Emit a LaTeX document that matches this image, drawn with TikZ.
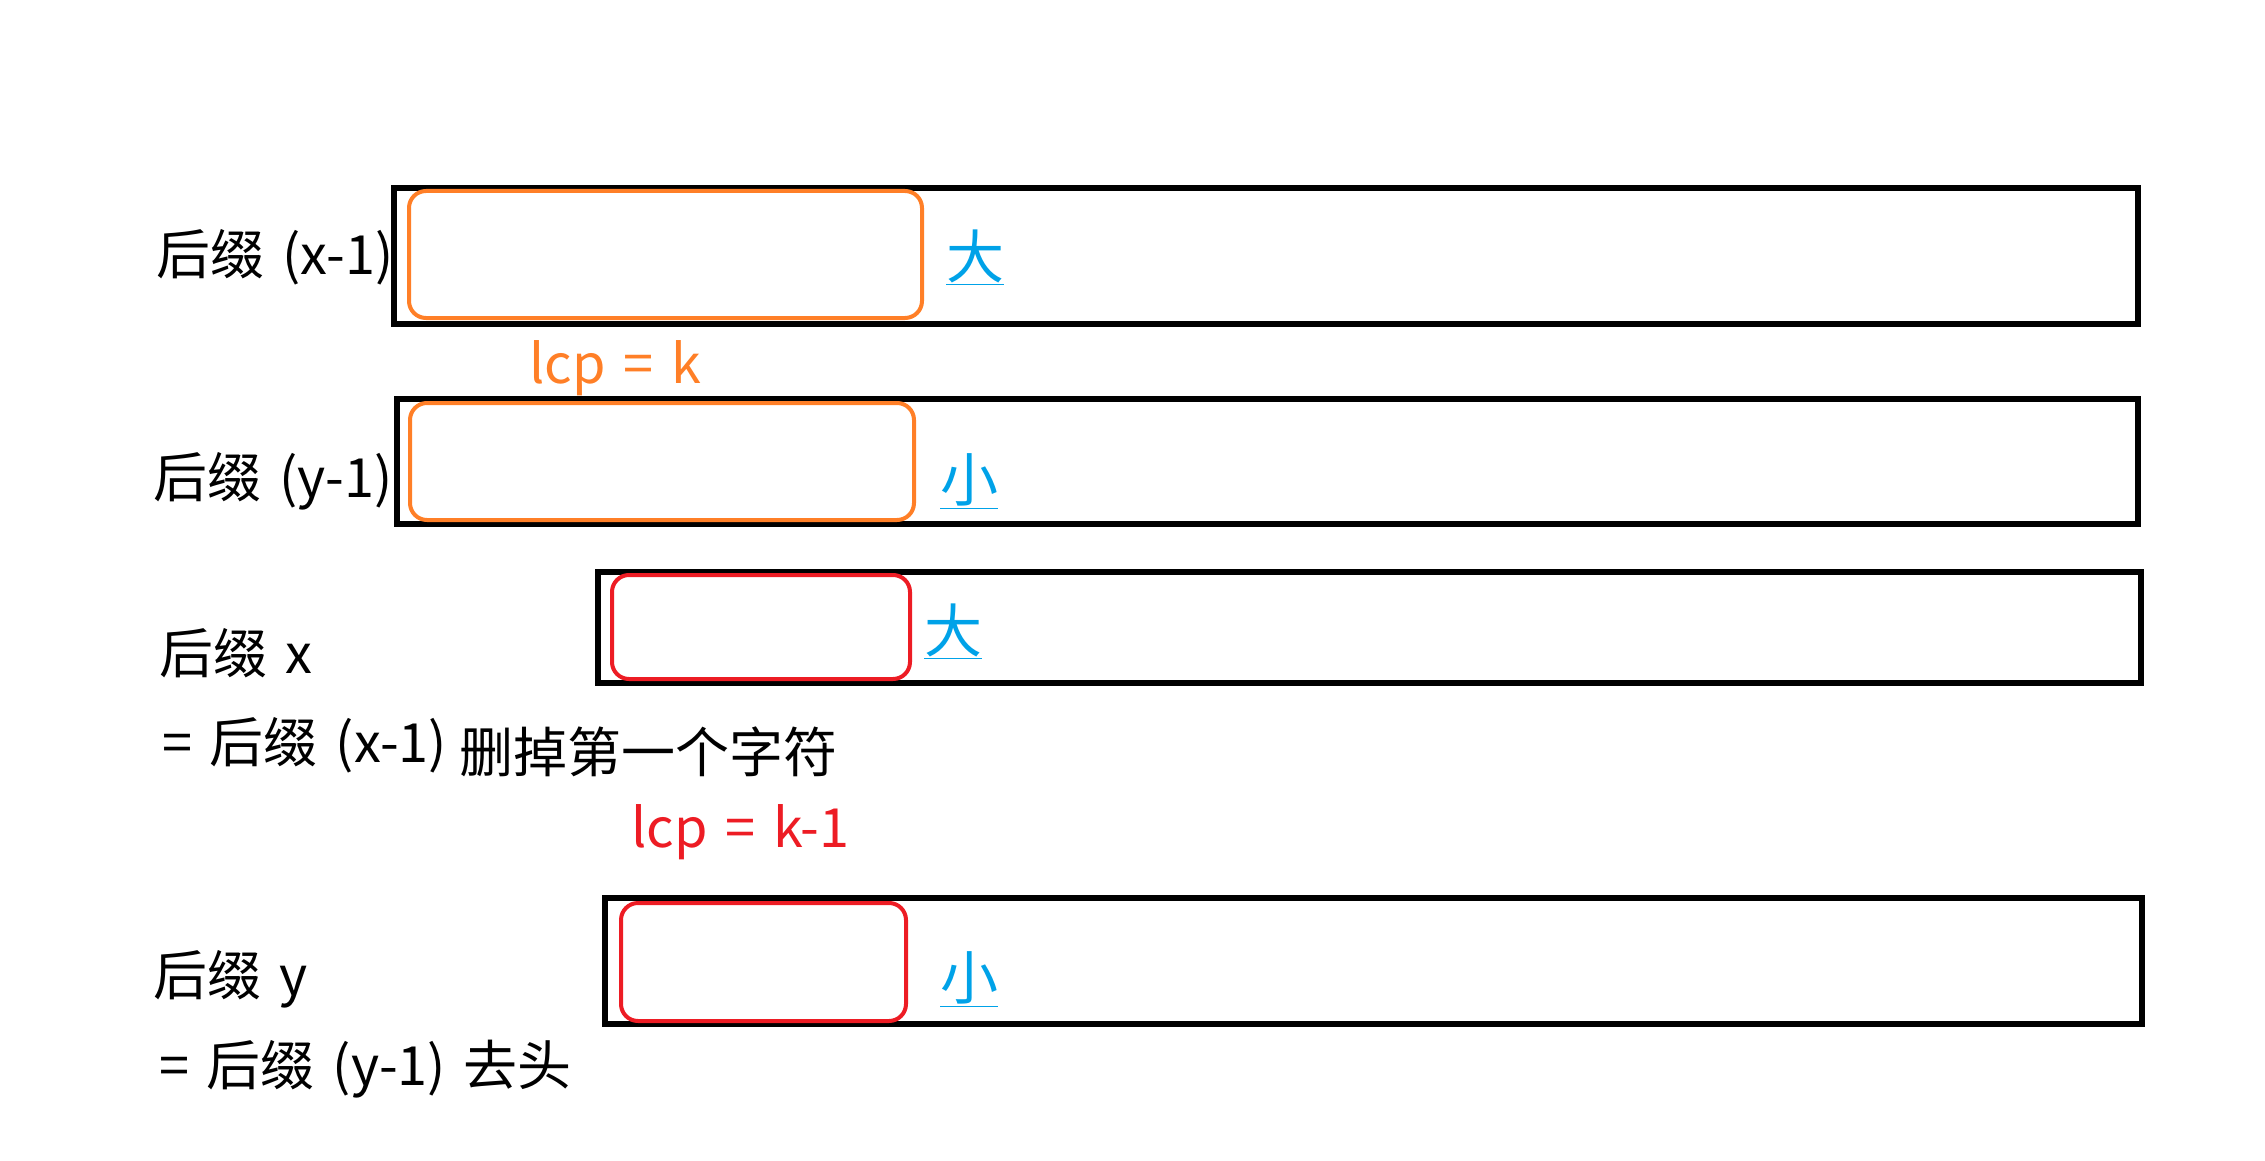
\documentclass[tikz,border=0pt]{standalone}
\usepackage{fontspec}
\setmainfont{Noto Sans CJK SC}
\definecolor{porange}{HTML}{FF7F27}
\definecolor{pred}{HTML}{ED1C24}
\definecolor{pblue}{HTML}{00A2E8}
\newcommand\mywidesp{\spaceskip=0.33em\relax}
\begin{document}
\begin{tikzpicture}[x=1pt,y=-1pt,
  blackbox/.style={draw=black,line width=5.5pt,inner sep=0pt,rectangle},
  obox/.style={draw=porange,line width=4pt,rounded corners=17pt,inner sep=0pt,rectangle},
  rbox/.style={draw=pred,line width=4pt,rounded corners=17pt,inner sep=0pt,rectangle},
  lbl/.style={anchor=west,inner sep=0pt,font=\fontsize{54}{60}\selectfont,execute at begin node=\mywidesp},
  bluemark/.style={anchor=west,inner sep=0pt,text=pblue,font=\fontsize{58}{64}\selectfont}
]
\useasboundingbox (0,0) rectangle (2265,1161);
% black boxes
\node[blackbox,minimum width=1744pt,minimum height=136pt] (b1) at (1266,256) {};
\node[blackbox,minimum width=1741pt,minimum height=125pt] (b2) at (1267.5,461.5) {};
\node[blackbox,minimum width=1543pt,minimum height=111pt] (b3) at (1369.5,627.5) {};
\node[blackbox,minimum width=1537pt,minimum height=126pt] (b4) at (1373.5,961) {};
% inner boxes
\node[obox,minimum width=513pt,minimum height=127pt] (o1) at (665.5,254.5) {};
\node[obox,minimum width=504pt,minimum height=117pt] (o2) at (662,461.5) {};
\node[rbox,minimum width=298pt,minimum height=104pt] (r3) at (761,627) {};
\node[rbox,minimum width=285pt,minimum height=118pt] (r4) at (763.5,962) {};
% labels
\node[lbl] (t1) at (156,257) {后缀 (x-1)};
\node[lbl] (t2) at (153,481) {后缀 (y-1)};
\node[lbl] (t3) at (159,653) {后缀 x};
\node[lbl] (t4) at (162,745) {= 后缀 (x-1)};
\node[lbl] (t4b) at (459,752) {删掉第一个字符};
\node[lbl] (t5) at (153,979) {后缀 y};
\node[lbl] (t6) at (159,1069) {= 后缀 (y-1) 去头};
\node[lbl,text=porange] (lcp1) at (529,368) {lcp = k};
\node[lbl,text=pred] (lcp2) at (631,832) {lcp = k-1};
% blue marks
\node[bluemark] (m1) at (946,257) {\underline{大}};
\node[bluemark] (m2) at (940,481) {\underline{小}};
\node[bluemark] (m3) at (924,631) {\underline{大}};
\node[bluemark] (m4) at (940,979) {\underline{小}};
\end{tikzpicture}
\end{document}
